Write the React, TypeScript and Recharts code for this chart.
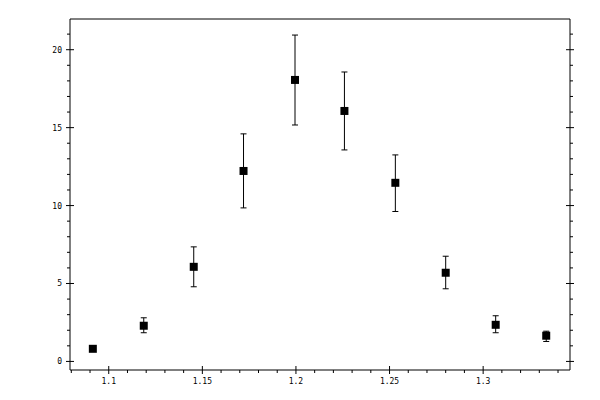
import { ScatterChart, Scatter, XAxis, YAxis, ZAxis, ErrorBar } from 'recharts';

const xValues = [1.0915, 1.1187, 1.1454, 1.172, 1.1995, 1.2259, 1.2531, 1.28, 1.3067, 1.3337];
const yValues = [0.81, 2.29, 6.07, 12.22, 18.06, 16.07, 11.46, 5.69, 2.35, 1.65];
const yUpper = [0.97, 2.8, 7.35, 14.6, 20.94, 18.57, 13.25, 6.75, 2.93, 1.94];
const yLower = [0.66, 1.84, 4.79, 9.85, 15.17, 13.57, 9.62, 4.66, 1.84, 1.28];

const xMajorTicks = [1.1, 1.15, 1.2, 1.25, 1.3];
const xMinorTicks = [
  1.08, 1.09, 1.11, 1.12, 1.13, 1.14, 1.16, 1.17, 1.18, 1.19, 1.21, 1.22, 1.23,
  1.24, 1.26, 1.27, 1.28, 1.29, 1.31, 1.32, 1.33, 1.34,
];
const yMajorTicks = [0, 5, 10, 15, 20];
const yMinorTicks = [1, 2, 3, 4, 6, 7, 8, 9, 11, 12, 13, 14, 16, 17, 18, 19, 21];

const xDomain = [1.0793, 1.3464];
const yDomain = [-0.55, 21.97];

const data = xValues.map((x, i) => ({
  x,
  y: yValues[i],
  err: [yValues[i] - yLower[i], yUpper[i] - yValues[i]],
}));

const xTicks = [...xMajorTicks, ...xMinorTicks];
const yTicks = [...yMajorTicks, ...yMinorTicks];

const FONT = '"DejaVu Sans Mono", monospace';

type Side = 'bottom' | 'top' | 'left' | 'right';

function makeTick(side: Side, majors: number[], showLabel: boolean) {
  return function Tick(props: any) {
    const { x, y, payload } = props;
    const v = payload.value;
    const major = majors.includes(v);
    const out = 3;
    const inn = major ? 4 : 0;
    const o = major ? 4 : out;
    let line;
    if (side === 'bottom') line = <line x1={x} y1={y - inn} x2={x} y2={y + o} stroke="#000" />;
    else if (side === 'top') line = <line x1={x} y1={y + inn} x2={x} y2={y - o} stroke="#000" />;
    else if (side === 'left') line = <line x1={x + inn} y1={y} x2={x - o} y2={y} stroke="#000" />;
    else line = <line x1={x - inn} y1={y} x2={x + o} y2={y} stroke="#000" />;
    let label = null;
    if (showLabel && major) {
      if (side === 'bottom') {
        label = (
          <text x={x} y={y + 13.5} textAnchor="middle" fontSize={8} fontFamily={FONT} fill="#000">
            {v}
          </text>
        );
      } else if (side === 'left') {
        label = (
          <text x={x - 8} y={y + 3} textAnchor="end" fontSize={8} fontFamily={FONT} fill="#000">
            {v}
          </text>
        );
      }
    }
    return (
      <g>
        {line}
        {label}
      </g>
    );
  };
}

const BottomTick = makeTick('bottom', xMajorTicks, true);
const TopTick = makeTick('top', xMajorTicks, false);
const LeftTick = makeTick('left', yMajorTicks, true);
const RightTick = makeTick('right', yMajorTicks, false);

export default function App() {
  return (
    <div style={{ position: 'absolute', left: 0, top: 0, width: 600, height: 400, background: '#fff' }}>
      <ScatterChart width={600} height={400} margin={{ top: 0, right: 0, bottom: 0, left: 0 }}>
        <XAxis
          xAxisId="b"
          dataKey="x"
          type="number"
          orientation="bottom"
          domain={xDomain}
          allowDataOverflow
          ticks={xTicks}
          interval={0}
          height={30}
          tickSize={0}
          tickMargin={0}
          tick={<BottomTick />}
          tickLine={false}
          axisLine={{ stroke: '#000' }}
        />
        <XAxis
          xAxisId="t"
          type="number"
          orientation="top"
          domain={xDomain}
          allowDataOverflow
          ticks={xTicks}
          interval={0}
          height={19}
          tickSize={0}
          tickMargin={0}
          tick={<TopTick />}
          tickLine={false}
          axisLine={{ stroke: '#000' }}
        />
        <YAxis
          yAxisId="l"
          dataKey="y"
          type="number"
          orientation="left"
          domain={yDomain}
          allowDataOverflow
          ticks={yTicks}
          interval={0}
          width={70}
          tickSize={0}
          tickMargin={0}
          tick={<LeftTick />}
          tickLine={false}
          axisLine={{ stroke: '#000' }}
        />
        <YAxis
          yAxisId="r"
          type="number"
          orientation="right"
          domain={yDomain}
          allowDataOverflow
          ticks={yTicks}
          interval={0}
          width={30}
          tickSize={0}
          tickMargin={0}
          tick={<RightTick />}
          tickLine={false}
          axisLine={{ stroke: '#000' }}
        />
        <ZAxis range={[49, 49]} />
        <Scatter
          data={data}
          xAxisId="b"
          yAxisId="l"
          fill="#000"
          shape="square"
          isAnimationActive={false}
        >
          <ErrorBar dataKey="err" direction="y" width={3} stroke="#000" strokeWidth={1} isAnimationActive={false} />
        </Scatter>
      </ScatterChart>
    </div>
  );
}
